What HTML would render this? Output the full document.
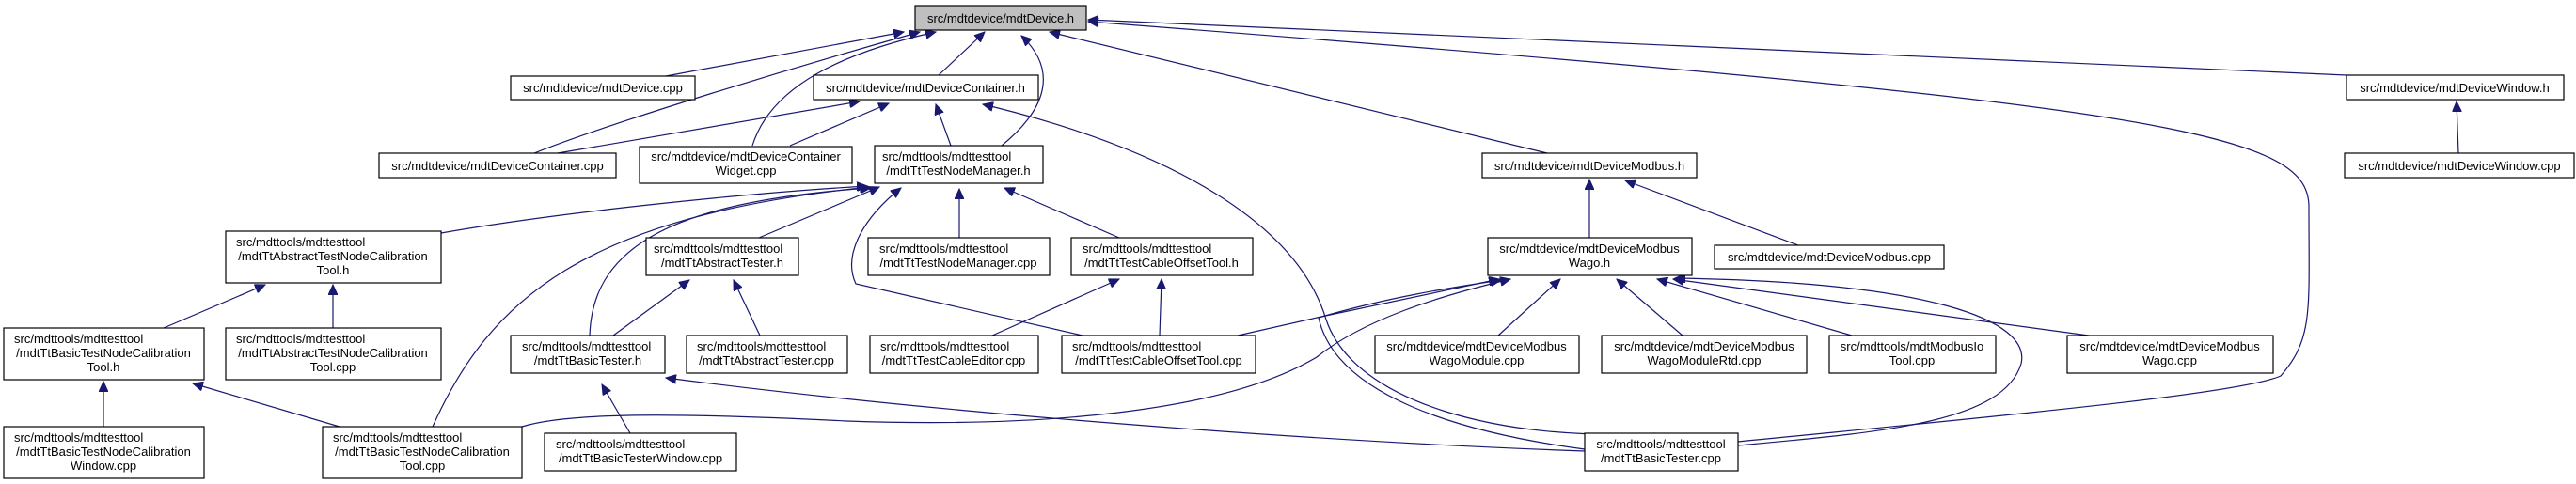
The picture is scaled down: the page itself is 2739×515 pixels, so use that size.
<!DOCTYPE html>
<html><head><meta charset="utf-8"><style>
html,body{margin:0;padding:0;background:#fff;}
svg{display:block;}
text{font-family:"Liberation Sans",Arial,sans-serif;font-size:13px;fill:#000;}
.e{fill:none;stroke:#191970;stroke-width:1.2;}
rect{fill:#fff;stroke:#000;stroke-width:1.2;}
</style></head><body>
<svg width="2739" height="515" viewBox="0 0 2739 515" xmlns="http://www.w3.org/2000/svg">
<defs><marker id="a" markerUnits="userSpaceOnUse" markerWidth="12" markerHeight="10" refX="11" refY="5" orient="auto"><path d="M0,0 L11,5 L0,10 z" fill="#191970" stroke="#191970"/></marker></defs>
<g class="e">
<path d="M708,81 L961,34" marker-end="url(#a)"/>
<path d="M568,163 C650,130 850,70 978,34" marker-end="url(#a)"/>
<path d="M800,155 C820,90 900,55 995,34" marker-end="url(#a)"/>
<path d="M998,80 L1047,34" marker-end="url(#a)"/>
<path d="M1065,155 C1120,110 1120,70 1086,38" marker-end="url(#a)"/>
<path d="M1645,163 L1116,34" marker-end="url(#a)"/>
<path d="M2495,80 L1157,21" marker-end="url(#a)"/>
<path d="M1848,470 C2100,445 2380,420 2425,400 C2460,360 2455,330 2455,220 C2455,140 2300,110 1157,23" marker-end="url(#a)"/>
<path d="M593,163 L914,108" marker-end="url(#a)"/>
<path d="M840,155 L945,110" marker-end="url(#a)"/>
<path d="M1011,155 L995,111" marker-end="url(#a)"/>
<path d="M1760,461 C1600,470 1440,430 1410,340 C1380,240 1250,160 1045,111" marker-end="url(#a)"/>
<path d="M469,248 C600,225 800,205 922,198" marker-end="url(#a)"/>
<path d="M460,454 C520,320 620,230 925,199" marker-end="url(#a)"/>
<path d="M627,357 C630,270 700,215 926,200" marker-end="url(#a)"/>
<path d="M807,253 L935,199" marker-end="url(#a)"/>
<path d="M1020,253 L1020,201" marker-end="url(#a)"/>
<path d="M1190,253 L1068,200" marker-end="url(#a)"/>
<path d="M1151,357 L910,302 C895,270 920,230 958,200" marker-end="url(#a)"/>
<path d="M1055,357 L1190,297" marker-end="url(#a)"/>
<path d="M1233,357 L1235,297" marker-end="url(#a)"/>
<path d="M652,357 L733,298" marker-end="url(#a)"/>
<path d="M808,357 L780,298" marker-end="url(#a)"/>
<path d="M174,349 L282,303" marker-end="url(#a)"/>
<path d="M354,349 L354,303" marker-end="url(#a)"/>
<path d="M110,454 L110,406" marker-end="url(#a)"/>
<path d="M361,454 L205,408" marker-end="url(#a)"/>
<path d="M670,461 L640,409" marker-end="url(#a)"/>
<path d="M1685,480 C1400,470 1000,440 708,402" marker-end="url(#a)"/>
<path d="M1316,357 L1400,338 L1594,297" marker-end="url(#a)"/>
<path d="M555,454 C600,440 700,438 900,448 C1100,455 1300,440 1400,380 C1450,340 1530,315 1606,297" marker-end="url(#a)"/>
<path d="M1685,478 C1550,460 1420,420 1402,338 C1480,315 1550,305 1596,298" marker-end="url(#a)"/>
<path d="M1593,357 L1659,297" marker-end="url(#a)"/>
<path d="M1789,357 L1719,297" marker-end="url(#a)"/>
<path d="M1969,357 L1762,297" marker-end="url(#a)"/>
<path d="M2221,357 L1779,297" marker-end="url(#a)"/>
<path d="M1848,474 C2000,460 2130,450 2149,387 C2160,340 2050,300 1781,296" marker-end="url(#a)"/>
<path d="M1690,253 L1690,191" marker-end="url(#a)"/>
<path d="M1912,261 L1728,192" marker-end="url(#a)"/>
<path d="M2614,163 L2612,108" marker-end="url(#a)"/>
</g>

<rect x="973" y="6" width="182" height="26" style="fill:#bfbfbf"/><text x="1064" y="24" text-anchor="middle">src/mdtdevice/mdtDevice.h</text>
<rect x="543" y="81" width="196" height="25"/><text x="641" y="98" text-anchor="middle">src/mdtdevice/mdtDevice.cpp</text>
<rect x="865" y="80" width="239" height="26"/><text x="984" y="98" text-anchor="middle">src/mdtdevice/mdtDeviceContainer.h</text>
<rect x="2495" y="80" width="231" height="26"/><text x="2610" y="98" text-anchor="middle">src/mdtdevice/mdtDeviceWindow.h</text>
<rect x="403" y="163" width="252" height="26"/><text x="529" y="181" text-anchor="middle">src/mdtdevice/mdtDeviceContainer.cpp</text>
<rect x="680" y="156" width="226" height="39"/><text x="793" y="171" text-anchor="middle">src/mdtdevice/mdtDeviceContainer</text><text x="793" y="186" text-anchor="middle">Widget.cpp</text>
<rect x="930" y="155" width="179" height="40"/><text x="938" y="171">src/mdttools/mdttesttool</text><text x="1019" y="186" text-anchor="middle">/mdtTtTestNodeManager.h</text>
<rect x="1576" y="163" width="228" height="26"/><text x="1690" y="181" text-anchor="middle">src/mdtdevice/mdtDeviceModbus.h</text>
<rect x="2493" y="163" width="244" height="26"/><text x="2615" y="181" text-anchor="middle">src/mdtdevice/mdtDeviceWindow.cpp</text>
<rect x="240" y="246" width="229" height="55"/><text x="251" y="262">src/mdttools/mdttesttool</text><text x="354" y="277" text-anchor="middle">/mdtTtAbstractTestNodeCalibration</text><text x="354" y="292" text-anchor="middle">Tool.h</text>
<rect x="687" y="253" width="162" height="40"/><text x="695" y="269">src/mdttools/mdttesttool</text><text x="768" y="284" text-anchor="middle">/mdtTtAbstractTester.h</text>
<rect x="923" y="253" width="193" height="40"/><text x="935" y="269">src/mdttools/mdttesttool</text><text x="1019" y="284" text-anchor="middle">/mdtTtTestNodeManager.cpp</text>
<rect x="1139" y="253" width="193" height="40"/><text x="1151" y="269">src/mdttools/mdttesttool</text><text x="1235" y="284" text-anchor="middle">/mdtTtTestCableOffsetTool.h</text>
<rect x="1582" y="253" width="217" height="40"/><text x="1690" y="269" text-anchor="middle">src/mdtdevice/mdtDeviceModbus</text><text x="1690" y="284" text-anchor="middle">Wago.h</text>
<rect x="1823" y="261" width="244" height="25"/><text x="1945" y="278" text-anchor="middle">src/mdtdevice/mdtDeviceModbus.cpp</text>
<rect x="4" y="349" width="213" height="55"/><text x="15" y="365">src/mdttools/mdttesttool</text><text x="110" y="380" text-anchor="middle">/mdtTtBasicTestNodeCalibration</text><text x="110" y="395" text-anchor="middle">Tool.h</text>
<rect x="240" y="349" width="229" height="55"/><text x="251" y="365">src/mdttools/mdttesttool</text><text x="354" y="380" text-anchor="middle">/mdtTtAbstractTestNodeCalibration</text><text x="354" y="395" text-anchor="middle">Tool.cpp</text>
<rect x="543" y="357" width="164" height="40"/><text x="555" y="373">src/mdttools/mdttesttool</text><text x="625" y="388" text-anchor="middle">/mdtTtBasicTester.h</text>
<rect x="730" y="357" width="171" height="40"/><text x="741" y="373">src/mdttools/mdttesttool</text><text x="815" y="388" text-anchor="middle">/mdtTtAbstractTester.cpp</text>
<rect x="925" y="357" width="179" height="40"/><text x="936" y="373">src/mdttools/mdttesttool</text><text x="1014" y="388" text-anchor="middle">/mdtTtTestCableEditor.cpp</text>
<rect x="1129" y="357" width="206" height="40"/><text x="1140" y="373">src/mdttools/mdttesttool</text><text x="1232" y="388" text-anchor="middle">/mdtTtTestCableOffsetTool.cpp</text>
<rect x="1462" y="357" width="217" height="40"/><text x="1570" y="373" text-anchor="middle">src/mdtdevice/mdtDeviceModbus</text><text x="1570" y="388" text-anchor="middle">WagoModule.cpp</text>
<rect x="1703" y="357" width="218" height="40"/><text x="1812" y="373" text-anchor="middle">src/mdtdevice/mdtDeviceModbus</text><text x="1812" y="388" text-anchor="middle">WagoModuleRtd.cpp</text>
<rect x="1945" y="357" width="177" height="40"/><text x="2033" y="373" text-anchor="middle">src/mdttools/mdtModbusIo</text><text x="2033" y="388" text-anchor="middle">Tool.cpp</text>
<rect x="2198" y="357" width="219" height="40"/><text x="2307" y="373" text-anchor="middle">src/mdtdevice/mdtDeviceModbus</text><text x="2307" y="388" text-anchor="middle">Wago.cpp</text>
<rect x="4" y="454" width="213" height="55"/><text x="15" y="470">src/mdttools/mdttesttool</text><text x="110" y="485" text-anchor="middle">/mdtTtBasicTestNodeCalibration</text><text x="110" y="500" text-anchor="middle">Window.cpp</text>
<rect x="343" y="454" width="212" height="55"/><text x="354" y="470">src/mdttools/mdttesttool</text><text x="449" y="485" text-anchor="middle">/mdtTtBasicTestNodeCalibration</text><text x="449" y="500" text-anchor="middle">Tool.cpp</text>
<rect x="579" y="461" width="204" height="40"/><text x="591" y="477">src/mdttools/mdttesttool</text><text x="681" y="492" text-anchor="middle">/mdtTtBasicTesterWindow.cpp</text>
<rect x="1685" y="461" width="163" height="40"/><text x="1766" y="477" text-anchor="middle">src/mdttools/mdttesttool</text><text x="1766" y="492" text-anchor="middle">/mdtTtBasicTester.cpp</text>
</svg>
</body></html>
